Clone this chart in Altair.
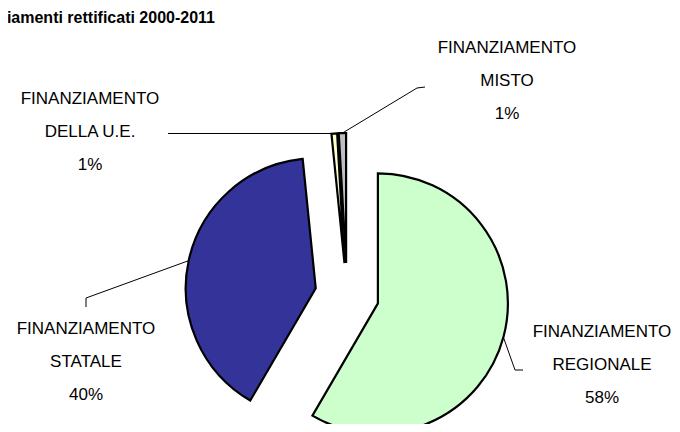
import math
import altair as alt
import pandas as pd

# ---- data ----
names = ["FINANZIAMENTO REGIONALE", "FINANZIAMENTO STATALE",
         "FINANZIAMENTO DELLA U.E.", "FINANZIAMENTO MISTO"]
line1 = ["FINANZIAMENTO", "FINANZIAMENTO", "FINANZIAMENTO", "FINANZIAMENTO"]
line2 = ["REGIONALE", "STATALE", "DELLA U.E.", "MISTO"]
values = [58.4, 40.0, 0.7, 0.9]
colors = ["#CCFFCC", "#333399", "#FFFFCC", "#C0C0C0"]
title_text = "Finanziamenti rettificati 2000-2011"

# ---- layout (pixels, svg coordinates) ----
W, H = 664, 416
CX, CY = 339, 287
R = 130
EXPLODE = 32
LINE_GAP = 33
label_pos = [(594, 324), (78, 321), (82, 91), (499, 40)]
leader_tail = [[(507, 362), (515, 362)], [(78, 290), (78, 299)],
               [(160, None)], [(409, 80), (417, 79)]]
FONT = "Liberation Sans"

total = sum(values)
df = pd.DataFrame({"name": names, "value": values, "order": list(range(len(names)))})

pie = alt.Chart(df).transform_window(
    cum="sum(value)", sort=[alt.SortField("order")], frame=[None, 0]
).transform_calculate(
    start="datum.cum - datum.value",
    mid=f"(datum.cum - datum.value/2)/{total}*2*PI",
    cx=f"{CX} + {EXPLODE}*sin(datum.mid)",
    cy=f"{CY} - {EXPLODE}*cos(datum.mid)",
).mark_arc(outerRadius=R, stroke="black", strokeWidth=2.2, strokeJoin="miter").encode(
    theta=alt.Theta("start:Q", scale=alt.Scale(domain=[0, total], range=[0, 2 * math.pi]), stack=None),
    theta2="cum:Q",
    x=alt.X("cx:Q", scale=None, axis=None),
    y=alt.Y("cy:Q", scale=None, axis=None),
    color=alt.Color("name:N", scale=alt.Scale(domain=names, range=colors), legend=None),
)

# leader lines: start on the slice edge at its bisector
rows = []
cum = 0.0
for i, v in enumerate(values):
    mid = (cum + v / 2) / total * 2 * math.pi
    cum += v
    cx = CX + EXPLODE * math.sin(mid)
    cy = CY - EXPLODE * math.cos(mid)
    sx = cx + R * math.sin(mid)
    sy = cy - R * math.cos(mid)
    pts = [(sx, sy)]
    for (px, py) in leader_tail[i]:
        pts.append((px, sy if py is None else py))
    for j, (px, py) in enumerate(pts):
        rows.append({"name": names[i], "seq": j, "px": px, "py": py})
lead_df = pd.DataFrame(rows)

leaders = alt.Chart(lead_df).mark_line(color="black", strokeWidth=1).encode(
    x=alt.X("px:Q", scale=None, axis=None),
    y=alt.Y("py:Q", scale=None, axis=None),
    detail="name:N",
    order="seq:Q",
)

lab_rows = []
for i, v in enumerate(values):
    lx, ly = label_pos[i]
    for j, t in enumerate([line1[i], line2[i], f"{round(v)}%"]):
        lab_rows.append({"t": t, "lx": lx, "ly": ly + j * LINE_GAP})
lab_df = pd.DataFrame(lab_rows)

labels = alt.Chart(lab_df).mark_text(
    font=FONT, fontSize=17, color="#000000", align="center", baseline="middle"
).encode(
    x=alt.X("lx:Q", scale=None, axis=None),
    y=alt.Y("ly:Q", scale=None, axis=None),
    text="t:N",
)

title = alt.Chart(pd.DataFrame({"t": [title_text]})).mark_text(
    font="Liberation Sans Narrow, Arial Narrow, Liberation Sans", fontSize=16,
    fontWeight="bold", align="right", baseline="alphabetic", color="#000000"
).encode(x=alt.value(207), y=alt.value(15), text="t:N")

chart = alt.layer(pie, leaders, labels, title).properties(
    width=W, height=H, padding=0,
    autosize=alt.AutoSizeParams(type="none"),
).configure_view(stroke=None)

chart.save("out.html", embed_options={"renderer": "svg", "actions": False})
